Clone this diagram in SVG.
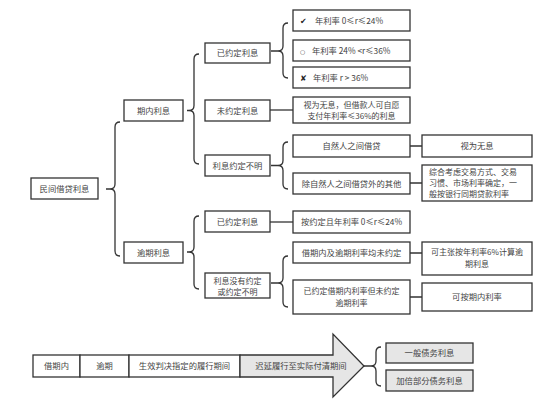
<svg xmlns="http://www.w3.org/2000/svg" width="554" height="417" viewBox="0 0 554 417">
<style>
.b{fill:#fff;stroke:#333;stroke-width:1.3}
.g{fill:#e6e6e6;stroke:#333;stroke-width:1.3}
.c{fill:none;stroke:#333;stroke-width:1.3}
text{font-family:"Noto Sans CJK SC","Noto Sans",sans-serif;font-size:8.3px;fill:#444}
.m{text-anchor:middle}
.s{font-size:8px}
</style>
<rect width="554" height="417" fill="#fff"/>
<g id="connectors">
<path class="c" d="M106,189 H110 M120,122 Q115,122 115,127 V184 Q115,189 110,189 Q115,189 115,194 V251 Q115,256 120,256"/>
<path class="c" d="M187,110.5 H189 M199,54 Q194,54 194,59 V105.5 Q194,110.5 189,110.5 Q194,110.5 194,115.5 V159 Q194,164 199,164"/>
<path class="c" d="M187,252 H189 M199,216 Q194,216 194,221 V247 Q194,252 189,252 Q194,252 194,257 V284 Q194,289 199,289"/>
<path class="c" d="M271,51 H278 M288,23 Q283,23 283,28 V46 Q283,51 278,51 Q283,51 283,56 V73 Q283,78 288,78"/>
<path class="c" d="M270,110 H293"/>
<path class="c" d="M271,165.5 H278 M288,142 Q283,142 283,147 V160.5 Q283,165.5 278,165.5 Q283,165.5 283,170.5 V184 Q283,189 288,189"/>
<path class="c" d="M270,222 H293"/>
<path class="c" d="M271,283 H278 M288,256 Q283,256 283,261 V278 Q283,283 278,283 Q283,283 283,288 V302 Q283,307 288,307"/>
<path class="c" d="M410,146 H422 M410,183 H422 M410,253 H422 M410,297 H422"/>
<path class="c" d="M364,366 H371 M381,347 Q376,347 376,352 V361 Q376,366 371,366 Q376,366 376,371 V381 Q376,386 381,386"/>
</g>
<g id="n-root"><rect class="b" x="31" y="178" width="67" height="21"/><text class="m" x="64.5" y="191.5">民间借贷利息</text></g>
<g id="n-qinei"><rect class="b" x="124" y="100" width="59" height="21"/><text class="m" x="153.5" y="113.5">期内利息</text></g>
<g id="n-yuqi"><rect class="b" x="124" y="242" width="59" height="21"/><text class="m" x="153.5" y="255.5">逾期利息</text></g>
<g id="n-yyd1"><rect class="b" x="205" y="43" width="65" height="20"/><text class="m" x="237.5" y="56">已约定利息</text></g>
<g id="n-wyd"><rect class="b" x="205" y="100" width="65" height="21"/><text class="m" x="237.5" y="113.5">未约定利息</text></g>
<g id="n-bm"><rect class="b" x="205" y="155" width="65" height="21"/><text class="m" x="237.5" y="168.5">利息约定不明</text></g>
<g id="n-yyd2"><rect class="b" x="205" y="211" width="65" height="21"/><text class="m" x="237.5" y="224.5">已约定利息</text></g>
<g id="n-myd"><rect class="b" x="205" y="273" width="65" height="25"/><text class="m s" x="237.5" y="283.5">利息没有约定</text><text class="m s" x="237.5" y="294.5">或约定不明</text></g>
<g id="n-r1"><rect class="b" x="293" y="10" width="117" height="21"/><text x="300" y="23.5" style="font-family:'DejaVu Sans',sans-serif;font-size:8px;fill:#222">✔</text><text x="315" y="23.5">年利率 0≤r≤24%</text></g>
<g id="n-r2"><rect class="b" x="293" y="40" width="117" height="21"/><text x="300" y="53.5" style="font-family:'DejaVu Sans',sans-serif;font-size:6px">○</text><text x="312" y="53.5">年利率 24% &lt;r≤36%</text></g>
<g id="n-r3"><rect class="b" x="293" y="67" width="117" height="21"/><text x="300" y="80.5" style="font-family:'DejaVu Sans',sans-serif;font-size:8px;fill:#222">✘</text><text x="313" y="80.5">年利率 r &gt; 36%</text></g>
<g id="n-wx"><rect class="b" x="293" y="97" width="117" height="26"/><text class="m s" x="351.5" y="107.5">视为无息，但借款人可自愿</text><text class="m s" x="351.5" y="118.5">支付年利率≤36%的利息</text></g>
<g id="n-zrr"><rect class="b" x="293" y="135" width="117" height="22"/><text class="m" x="351.5" y="149">自然人之间借贷</text></g>
<g id="n-wx2"><rect class="b" x="422" y="135" width="110" height="22"/><text class="m" x="477" y="149">视为无息</text></g>
<g id="n-qt"><rect class="b" x="293" y="173" width="117" height="21"/><text class="m" x="351.5" y="186.5">除自然人之间借贷外的其他</text></g>
<g id="n-zh"><rect class="b" x="422" y="165" width="110" height="36"/><text class="s" x="429" y="175">综合考虑交易方式、交易</text><text class="s" x="429" y="186">习惯、市场利率确定，一</text><text class="s" x="429" y="197">般按银行同期贷款利率</text></g>
<g id="n-ay"><rect class="b" x="293" y="211" width="117" height="22"/><text class="m" x="351.5" y="225">按约定且年利率 0≤r≤24%</text></g>
<g id="n-jq"><rect class="b" x="293" y="242" width="117" height="21"/><text class="m" x="351.5" y="255.5">借期内及逾期利率均未约定</text></g>
<g id="n-kz"><rect class="b" x="422" y="242" width="110" height="33"/><text class="m s" x="477" y="255">可主张按年利率6%计算逾</text><text class="m s" x="477" y="267">期利息</text></g>
<g id="n-yj"><rect class="b" x="293" y="280" width="117" height="34"/><text class="m s" x="351.5" y="294">已约定借期内利率但未约定</text><text class="m s" x="351.5" y="305.5">逾期利率</text></g>
<g id="n-ka"><rect class="b" x="422" y="283" width="110" height="28"/><text class="m" x="477" y="300">可按期内利率</text></g>
<g id="n-t1"><rect class="b" x="33" y="355" width="47" height="22"/><text class="m" x="56.5" y="369">借期内</text></g>
<g id="n-t2"><rect class="b" x="80" y="355" width="49" height="22"/><text class="m" x="104.5" y="369">逾期</text></g>
<g id="n-t3"><rect class="b" x="129" y="355" width="111" height="22"/><text class="m" x="184.5" y="369">生效判决指定的履行期间</text></g>
<g id="n-t4"><polygon class="g" points="240,355 333,355 333,334 364,366 333,397 333,377 240,377"/><text class="m" x="301" y="369">迟延履行至实际付清期间</text></g>
<g id="n-ib"><rect class="g" x="386" y="343" width="87" height="20"/><text class="m" x="429.5" y="356">一般债务利息</text></g>
<g id="n-jb"><rect class="g" x="386" y="370" width="87" height="21"/><text class="m" x="429.5" y="383.5">加倍部分债务利息</text></g>
</svg>
